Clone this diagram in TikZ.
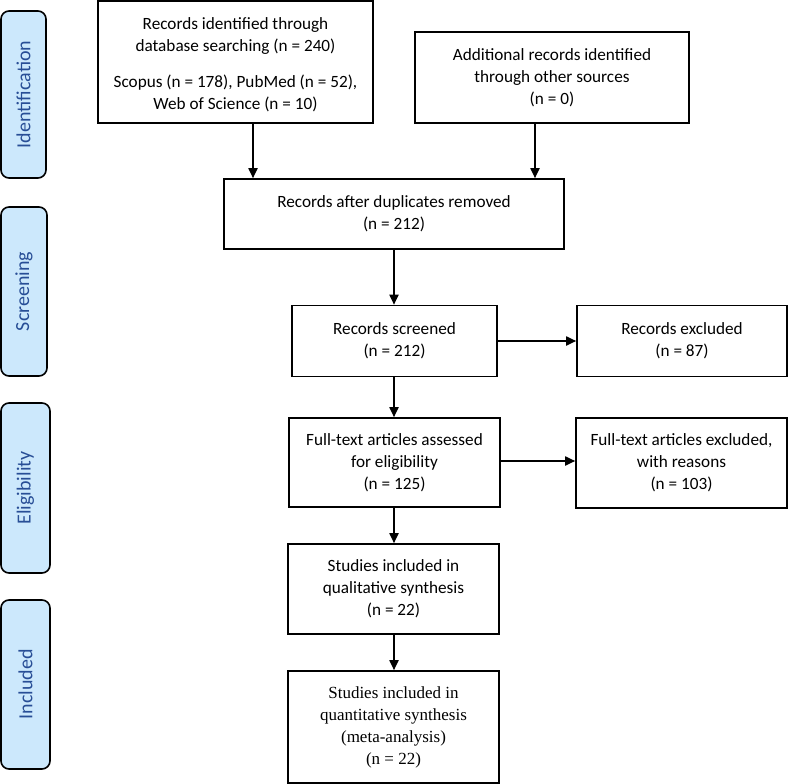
\documentclass[tikz,border=0pt]{standalone}
\usepackage{fontspec}
\setmainfont{Carlito}
\newfontfamily\serifbox{Liberation Serif}
\usetikzlibrary{arrows.meta}
\definecolor{phasefill}{RGB}{204,232,252}
\definecolor{phasetext}{RGB}{40,78,150}
\tikzset{
  box/.style={draw=black, line width=1.6pt, align=center, font=\fontsize{17.2}{22}\selectfont, inner sep=2pt},
  phase/.style={draw=black, line width=1.6pt, fill=phasefill, rounded corners=8pt},
  phaselabel/.style={rotate=90, text=phasetext, font=\fontsize{20}{22}\selectfont},
  arr/.style={line width=1.8pt, -{Triangle[length=10pt,width=9pt]}}
}
\begin{document}
\begin{tikzpicture}[x=1pt,y=-1pt]
\useasboundingbox (0,0) rectangle (788,784);
% phase labels
\draw[phase] (1,11) rectangle (46,178);
\node[phaselabel] (pid) at (23.5,94.5) {Identification};
\draw[phase] (1,207) rectangle (47,376);
\node[phaselabel] (psc) at (24,291.5) {Screening};
\draw[phase] (1,403) rectangle (50,573);
\node[phaselabel] (pel) at (25.5,488) {Eligibility};
\draw[phase] (1,600) rectangle (50,769);
\node[phaselabel] (pin) at (25.5,684.5) {Included};
% boxes
\node[box, minimum width=275pt, minimum height=122pt] (b1) at (235.5,62)
  {\rule{0pt}{18pt}Records identified through\\database searching (n = 240)\\[14pt]Scopus (n = 178), PubMed (n = 52),\\Web of Science (n = 10)};
\node[box, minimum width=274pt, minimum height=91pt] (b2) at (552,77.5)
  {Additional records identified\\through other sources\\(n = 0)};
\node[box, minimum width=340pt, minimum height=70pt] (b3) at (394,214)
  {Records after duplicates removed\\(n = 212)};
\node[box, minimum width=205pt, minimum height=71pt] (b4) at (394.5,341)
  {Records screened\\(n = 212)};
\node[box, minimum width=210pt, minimum height=71pt] (b5) at (682,341)
  {Records excluded\\(n = 87)};
\node[box, minimum width=211pt, minimum height=89pt] (b6) at (394.5,462.5)
  {Full-text articles assessed\\for eligibility\\(n = 125)};
\node[box, minimum width=211pt, minimum height=90pt] (b7) at (681.5,463)
  {Full-text articles excluded,\\with reasons\\(n = 103)};
\node[box, minimum width=211pt, minimum height=90pt] (b8) at (393.5,589)
  {Studies included in\\qualitative synthesis\\(n = 22)};
\node[box, minimum width=211pt, minimum height=112pt, font=\serifbox\fontsize{17}{22}\selectfont] (b9) at (393.5,727)
  {Studies included in\\quantitative synthesis\\(meta-analysis)\\(n = 22)};
% connectors
\coordinate (c1) at (253,0);
\coordinate (c2) at (535,0);
\coordinate (c3) at (394,0);
\coordinate (h1) at (0,341);
\coordinate (h2) at (0,461);
\draw[arr] (b1.south -| c1) -- (b3.north -| c1);
\draw[arr] (b2.south -| c2) -- (b3.north -| c2);
\draw[arr] (b3.south -| c3) -- (b4.north -| c3);
\draw[arr] (b4.east |- h1) -- (b5.west |- h1);
\draw[arr] (b4.south -| c3) -- (b6.north -| c3);
\draw[arr] (b6.east |- h2) -- (b7.west |- h2);
\draw[arr] (b6.south -| c3) -- (b8.north -| c3);
\draw[arr] (b8.south -| c3) -- (b9.north -| c3);
\end{tikzpicture}
\end{document}
